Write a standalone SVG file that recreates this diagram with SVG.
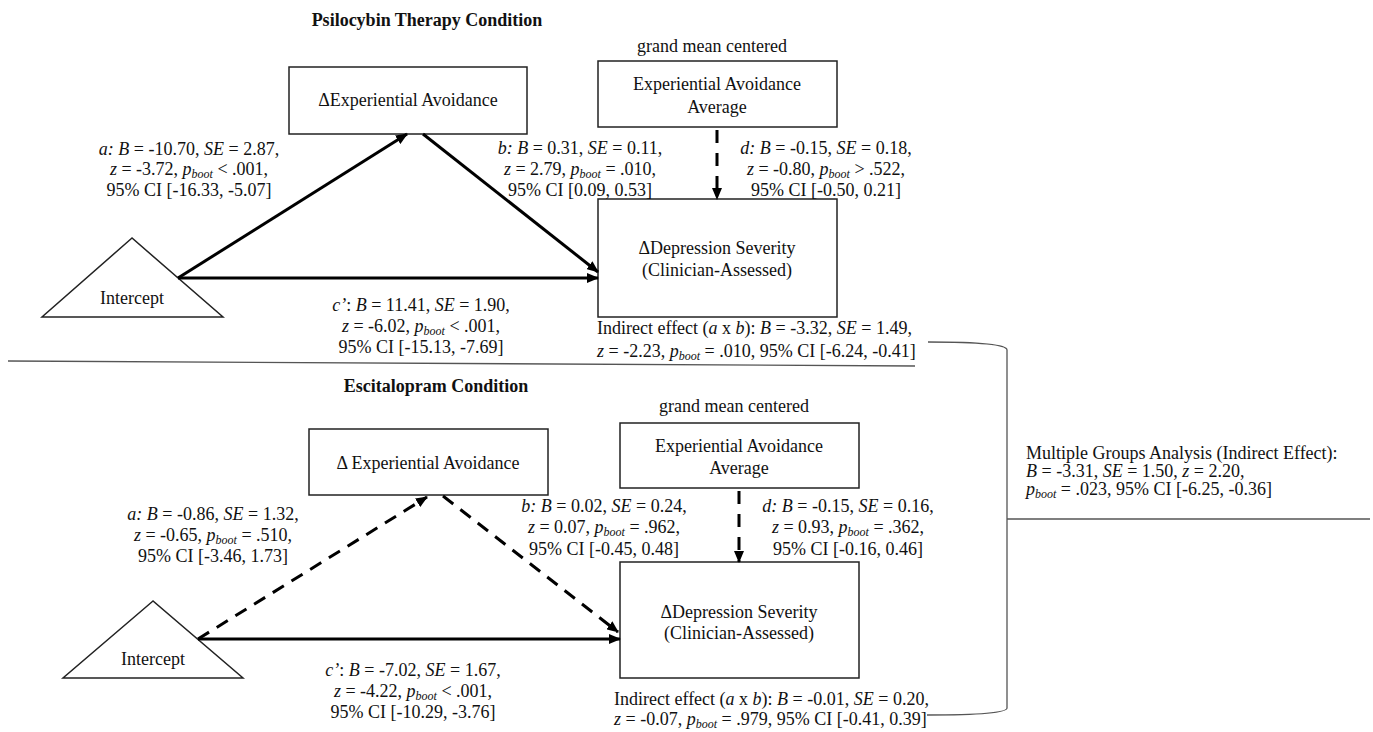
<svg xmlns="http://www.w3.org/2000/svg" width="1373" height="732" viewBox="0 0 1373 732">
<style>
.t{font-family:"Liberation Serif","Times New Roman",serif;font-size:18px;fill:#111}
.c{text-anchor:middle}
.i{font-style:italic}
.s{font-size:12px;font-style:italic}
.bd{font-weight:bold}
.box{fill:#fff;stroke:#222;stroke-width:1.5}
.ln{fill:none;stroke:#000;stroke-width:3}
.dash{stroke-dasharray:13 9}
.thin{fill:none;stroke:#555;stroke-width:1.3}
</style>
<defs>
<marker id="ah" markerUnits="userSpaceOnUse" markerWidth="12" markerHeight="10" refX="11" refY="5" orient="auto">
<path d="M0,0 L12,5 L0,10 z" fill="#000"/>
</marker>
</defs>
<rect width="1373" height="732" fill="#fff"/>

<!-- Titles -->
<text class="t bd c" x="427" y="26">Psilocybin Therapy Condition</text>
<text class="t bd c" x="436" y="392">Escitalopram Condition</text>

<!-- Top section nodes -->
<g id="top-ea">
<rect class="box" x="289" y="67" width="238" height="67"/>
<text class="t c" x="408" y="106">ΔExperiential Avoidance</text>
</g>
<g id="top-eaavg">
<text class="t c" x="712" y="52">grand mean centered</text>
<rect class="box" x="598" y="61" width="239" height="66"/>
<text class="t c" x="717" y="90">Experiential Avoidance</text>
<text class="t c" x="717" y="113">Average</text>
</g>
<g id="top-dep">
<rect class="box" x="598" y="199" width="239" height="118"/>
<text class="t c" x="717" y="254">ΔDepression Severity</text>
<text class="t c" x="717" y="276">(Clinician-Assessed)</text>
</g>
<g id="top-int">
<polygon class="box" points="132,238 42,317 223,317"/>
<text class="t c" x="132" y="304">Intercept</text>
</g>

<!-- Bottom section nodes -->
<g id="bot-ea">
<rect class="box" x="309" y="429" width="239" height="66"/>
<text class="t c" x="428" y="469">Δ Experiential Avoidance</text>
</g>
<g id="bot-eaavg">
<text class="t c" x="734" y="412">grand mean centered</text>
<rect class="box" x="620" y="423" width="239" height="65"/>
<text class="t c" x="739" y="452">Experiential Avoidance</text>
<text class="t c" x="739" y="474">Average</text>
</g>
<g id="bot-dep">
<rect class="box" x="620" y="562" width="239" height="116"/>
<text class="t c" x="739" y="618">ΔDepression Severity</text>
<text class="t c" x="739" y="639">(Clinician-Assessed)</text>
</g>
<g id="bot-int">
<polygon class="box" points="153,601 63,678 243,678"/>
<text class="t c" x="153" y="665">Intercept</text>
</g>

<!-- Connectors -->
<g id="connectors">
<line class="ln" x1="178" y1="278" x2="407" y2="134" marker-end="url(#ah)"/>
<line class="ln" x1="423" y1="134" x2="598" y2="272" marker-end="url(#ah)"/>
<line class="ln" x1="178" y1="278" x2="598" y2="278" marker-end="url(#ah)"/>
<line class="ln" x1="717" y1="130" x2="717" y2="199" stroke-dasharray="13 10" marker-end="url(#ah)"/>

<line class="ln dash" x1="198" y1="639" x2="427" y2="497" marker-end="url(#ah)"/>
<line class="ln dash" x1="443" y1="496" x2="618" y2="632" marker-end="url(#ah)"/>
<line class="ln" x1="198" y1="639" x2="620" y2="639" marker-end="url(#ah)"/>
<line class="ln" x1="739" y1="491" x2="739" y2="562" stroke-dasharray="13 10" marker-end="url(#ah)"/>

<line class="thin" x1="8" y1="361" x2="915" y2="366"/>
<path class="thin" d="M928,342 C975,342 1007,344 1007,350 L1007,708 C1007,713 975,715 927,715"/>
<line class="thin" x1="1007" y1="519" x2="1370" y2="519"/>
</g>

<!-- Top labels -->
<g id="top-labels">
<text class="t c" x="189" y="155"><tspan class="i">a:</tspan> <tspan class="i">B</tspan> = -10.70, <tspan class="i">SE</tspan> = 2.87,</text>
<text class="t c" x="189" y="175"><tspan class="i">z</tspan> = -3.72, <tspan class="i">p</tspan><tspan class="s" dy="3">boot</tspan><tspan dy="-3"> &lt; .001,</tspan></text>
<text class="t c" x="189" y="196">95% CI [-16.33, -5.07]</text>

<text class="t c" x="580" y="154"><tspan class="i">b:</tspan> <tspan class="i">B</tspan> = 0.31, <tspan class="i">SE</tspan> = 0.11,</text>
<text class="t c" x="580" y="175"><tspan class="i">z</tspan> = 2.79, <tspan class="i">p</tspan><tspan class="s" dy="3">boot</tspan><tspan dy="-3"> = .010,</tspan></text>
<text class="t c" x="580" y="196">95% CI [0.09, 0.53]</text>

<text class="t c" x="826" y="154"><tspan class="i">d:</tspan> <tspan class="i">B</tspan> = -0.15, <tspan class="i">SE</tspan> = 0.18,</text>
<text class="t c" x="826" y="175"><tspan class="i">z</tspan> = -0.80, <tspan class="i">p</tspan><tspan class="s" dy="3">boot</tspan><tspan dy="-3"> &gt; .522,</tspan></text>
<text class="t c" x="826" y="196">95% CI [-0.50, 0.21]</text>

<text class="t c" x="421" y="311"><tspan class="i">c’</tspan>: <tspan class="i">B</tspan> = 11.41, <tspan class="i">SE</tspan> = 1.90,</text>
<text class="t c" x="421" y="332"><tspan class="i">z</tspan> = -6.02, <tspan class="i">p</tspan><tspan class="s" dy="3">boot</tspan><tspan dy="-3"> &lt; .001,</tspan></text>
<text class="t c" x="421" y="353">95% CI [-15.13, -7.69]</text>

<text class="t" x="597" y="334">Indirect effect (<tspan class="i">a</tspan> x <tspan class="i">b</tspan>): <tspan class="i">B</tspan> = -3.32, <tspan class="i">SE</tspan> = 1.49,</text>
<text class="t" x="597" y="357"><tspan class="i">z</tspan> = -2.23, <tspan class="i">p</tspan><tspan class="s" dy="3">boot</tspan><tspan dy="-3"> = .010, 95% CI [-6.24, -0.41]</tspan></text>
</g>

<!-- Bottom labels -->
<g id="bot-labels">
<text class="t c" x="213" y="520"><tspan class="i">a:</tspan> <tspan class="i">B</tspan> = -0.86, <tspan class="i">SE</tspan> = 1.32,</text>
<text class="t c" x="213" y="541"><tspan class="i">z</tspan> = -0.65, <tspan class="i">p</tspan><tspan class="s" dy="3">boot</tspan><tspan dy="-3"> = .510,</tspan></text>
<text class="t c" x="213" y="562">95% CI [-3.46, 1.73]</text>

<text class="t c" x="604" y="512"><tspan class="i">b:</tspan> <tspan class="i">B</tspan> = 0.02, <tspan class="i">SE</tspan> = 0.24,</text>
<text class="t c" x="604" y="533"><tspan class="i">z</tspan> = 0.07, <tspan class="i">p</tspan><tspan class="s" dy="3">boot</tspan><tspan dy="-3"> = .962,</tspan></text>
<text class="t c" x="604" y="555">95% CI [-0.45, 0.48]</text>

<text class="t c" x="848" y="512"><tspan class="i">d:</tspan> <tspan class="i">B</tspan> = -0.15, <tspan class="i">SE</tspan> = 0.16,</text>
<text class="t c" x="848" y="533"><tspan class="i">z</tspan> = 0.93, <tspan class="i">p</tspan><tspan class="s" dy="3">boot</tspan><tspan dy="-3"> = .362,</tspan></text>
<text class="t c" x="848" y="555">95% CI [-0.16, 0.46]</text>

<text class="t c" x="413" y="676"><tspan class="i">c’</tspan>: <tspan class="i">B</tspan> = -7.02, <tspan class="i">SE</tspan> = 1.67,</text>
<text class="t c" x="413" y="697"><tspan class="i">z</tspan> = -4.22, <tspan class="i">p</tspan><tspan class="s" dy="3">boot</tspan><tspan dy="-3"> &lt; .001,</tspan></text>
<text class="t c" x="413" y="718">95% CI [-10.29, -3.76]</text>

<text class="t" x="614" y="705">Indirect effect (<tspan class="i">a</tspan> x <tspan class="i">b</tspan>): <tspan class="i">B</tspan> = -0.01, <tspan class="i">SE</tspan> = 0.20,</text>
<text class="t" x="614" y="725"><tspan class="i">z</tspan> = -0.07, <tspan class="i">p</tspan><tspan class="s" dy="3">boot</tspan><tspan dy="-3"> = .979, 95% CI [-0.41, 0.39]</tspan></text>
</g>

<g id="multigroup">
<text class="t" x="1026" y="459">Multiple Groups Analysis (Indirect Effect):</text>
<text class="t" x="1026" y="477"><tspan class="i">B</tspan> = -3.31, <tspan class="i">SE</tspan> = 1.50, <tspan class="i">z</tspan> = 2.20,</text>
<text class="t" x="1026" y="495"><tspan class="i">p</tspan><tspan class="s" dy="3">boot</tspan><tspan dy="-3"> = .023, 95% CI [-6.25, -0.36]</tspan></text>
</g>
</svg>
